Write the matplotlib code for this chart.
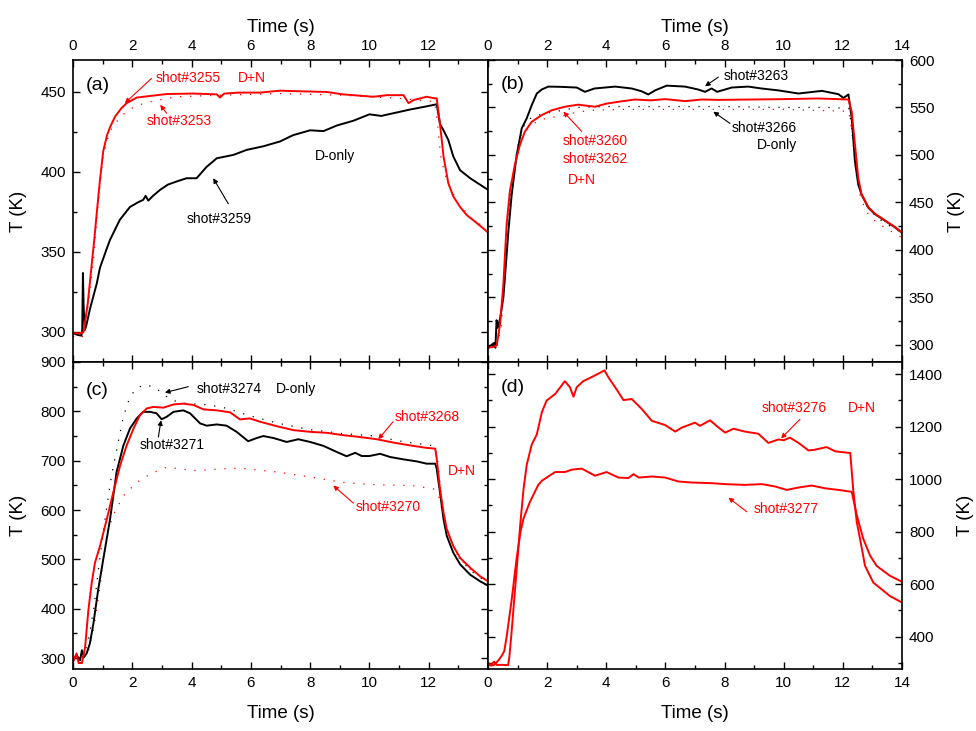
import numpy as np
import matplotlib
matplotlib.use("Agg")
import matplotlib.pyplot as plt
from matplotlib.ticker import MultipleLocator

plt.rcParams['font.family'] = ['Liberation Sans', 'DejaVu Sans']

RED = '#ff0000'
BLK = '#000000'

# ---- panel (a): shots 3255 / 3253 (D+N) and 3259 (D-only)
t_3255 = [0, 0.3, 0.36, 0.5, 0.62, 0.72, 0.8, 0.91, 1.02, 1.15, 1.25, 1.42, 1.64, 1.81, 2.15, 2.6,
          3.16, 4.06, 4.85, 4.96, 5.1, 5.6, 6.31, 6.98, 7.5, 8.56, 9.1, 10.13, 10.6, 11.15, 11.25,
          11.32, 11.5, 11.93, 12.2, 12.27, 12.38, 12.5, 12.66, 12.83, 13.06, 13.28, 13.62, 13.96]
T_3255 = [299, 299, 300, 318, 340, 358, 374, 395, 413, 423, 428, 434.6, 440, 443, 446.5, 447.5,
          448.7, 449, 448.5, 446.5, 449, 449.6, 449.6, 450.8, 450.5, 450, 448.5, 447, 448, 448, 445,
          443, 445, 447, 446, 446, 430, 409.6, 393, 384.6, 378, 373, 368, 362.7]

t_3253 = [0, 0.3, 0.4, 0.55, 0.7, 0.8, 0.91, 1.02, 1.15, 1.3, 1.5, 1.7, 2.0, 2.4, 2.9, 3.5, 5, 7,
          9, 11, 12.2, 12.3, 12.4, 12.6, 13, 13.5, 14]
T_3253 = [297, 296, 303, 322, 347, 370, 392, 410, 420, 427, 432, 436, 440, 443, 445, 447, 448, 449,
          448, 446, 444, 430, 410, 395, 380, 370, 364]

t_3259 = [0, 0.15, 0.28, 0.31, 0.335, 0.36, 0.4, 0.45, 0.57, 0.8, 0.91, 1.14, 1.25, 1.58, 1.92, 2.2,
          2.37, 2.45, 2.54, 2.7, 2.94, 3.2, 3.5, 3.83, 4.17, 4.5, 4.85, 5.41, 5.86, 6.42, 6.98, 7.43,
          8.0, 8.45, 8.9, 9.46, 10.0, 10.4, 10.81, 11.37, 11.93, 12.27, 12.38, 12.5, 12.66, 12.83,
          13.06, 13.4, 13.73, 14.0]
T_3259 = [299, 298, 297.5, 300, 336.7, 315, 301, 304, 314, 330, 340, 352, 357.5, 370, 378, 381,
          382.5, 385, 382, 385, 388.75, 392, 394, 396, 396, 403, 408.5, 410.6, 413.75, 416, 419, 423,
          426, 425.5, 429, 432, 436, 435, 436.7, 439, 441, 442.3, 430, 426, 420, 409.6,
          401, 396, 392, 388.75]

# ---- panel (b): shots 3260 / 3262 (D+N) and 3263 / 3266 (D-only)
t_3263 = [0, 0.12, 0.2, 0.25, 0.29, 0.33, 0.41, 0.46, 0.52, 0.57, 0.69, 0.8, 0.97, 1.14, 1.31, 1.48,
          1.65, 1.82, 2.04, 2.49, 3.0, 3.28, 3.6, 4.3, 4.86, 5.2, 5.42, 5.65, 6.04, 6.66, 7.1, 7.34,
          7.56, 7.75, 8.24, 8.8, 9.25, 9.82, 10.5, 11.29, 11.85, 12.02, 12.19, 12.3, 12.41, 12.52,
          12.63, 12.86, 13.09, 13.43, 13.77, 13.99]
T_3263 = [297, 300, 302, 297, 326, 318, 328, 338, 350, 370, 420, 458, 500, 528, 538.6, 552.5,
          564.7, 569, 572, 571.7, 571, 566.5, 570, 572, 570, 567, 563.7, 568, 573, 572, 569, 566.5,
          570, 566.5, 571, 572, 570, 568, 564.7, 567.5, 564, 560, 563.7, 538.6, 493, 469,
          458.5, 444.5, 437.6, 430.6, 423.6, 418.4]

t_3260 = [0, 0.2, 0.3, 0.41, 0.52, 0.63, 0.74, 0.91, 1.08, 1.25, 1.48, 1.82, 2.15, 2.6, 3.05, 3.3,
          3.62, 4.0, 4.41, 4.97, 5.5, 5.99, 6.66, 7.23, 7.8, 8.92, 10.0, 11.17, 12.19, 12.3, 12.41,
          12.52, 12.63, 12.86, 13.09, 13.43, 13.77, 13.99]
T_3260 = [297, 298, 300, 322.6, 364, 427, 462, 490, 510.7, 524.7, 535, 542, 547, 550.8, 553, 552,
          550.8, 554, 556, 558.4, 557.5, 558.8, 556.7, 558.4, 558, 558.4, 558.8, 559.5, 558.4, 545.5,
          510.7, 476, 459, 445, 438, 431, 424, 418.5]

t_3266 = [0, 0.3, 0.45, 0.6, 0.75, 0.9, 1.05, 1.2, 1.4, 1.7, 2.0, 2.5, 3.0, 4, 6, 8, 10, 11.5, 12.2,
          12.3, 12.4, 12.52, 12.7, 12.9, 13.2, 13.6, 14]
T_3266 = [297, 300, 330, 400, 455, 490, 515, 530, 538, 542, 544, 547, 550, 551, 551, 551, 550, 550,
          549, 530, 495, 470, 452, 442, 433, 425, 418]

t_3262 = [0, 0.3, 0.45, 0.6, 0.75, 0.9, 1.05, 1.2, 1.4, 1.7, 2.0, 2.5, 3.0, 3.5, 4.5, 6, 8, 10, 12.2,
          12.3, 12.45, 12.6, 12.8, 13.1, 13.5, 14]
T_3262 = [296, 298, 320, 390, 450, 485, 510, 522, 530, 536, 539, 541, 545, 547, 548, 548, 548, 548,
          546, 525, 480, 455, 440, 430, 422, 413]

# ---- panel (c): shots 3268 / 3270 (D+N) and 3271 / 3274 (D-only)
t_3268 = [0, 0.12, 0.19, 0.3, 0.37, 0.41, 0.52, 0.63, 0.74, 0.91, 1.14, 1.36, 1.59, 1.81, 2.04, 2.26,
          2.49, 2.71, 3.05, 3.39, 3.72, 4.06, 4.4, 4.85, 5.3, 5.63, 5.96, 6.31, 6.87, 7.43, 8.0, 8.56,
          9.12, 9.68, 10.25, 10.81, 11.37, 11.93, 12.22, 12.27, 12.38, 12.5, 12.61, 12.83, 13.06,
          13.4, 13.73, 14.0]
T_3268 = [292.5, 309.5, 290, 290, 309.5, 323, 398, 452, 493, 527, 581.6, 636, 690.5, 731, 765, 792.5,
          806, 809, 807.5, 814, 815.6, 813, 804, 802, 798, 783.7, 785.7, 779, 770, 762, 758.5, 756.5,
          751.7, 748, 743.5, 736.7, 731, 726, 724.5, 704, 643, 595, 561, 527, 503,
          483, 466, 455.8]

t_3271 = [0, 0.12, 0.24, 0.3, 0.37, 0.46, 0.57, 0.69, 0.85, 1.02, 1.25, 1.47, 1.7, 1.92, 2.15, 2.37,
          2.6, 2.82, 2.99, 3.16, 3.39, 3.72, 3.95, 4.29, 4.51, 4.85, 5.18, 5.52, 5.91, 6.2, 6.42, 6.76,
          7.21, 7.6, 8.0, 8.45, 8.9, 9.23, 9.52, 9.74, 10.0, 10.36, 10.7, 11.15, 11.6, 11.93, 12.22,
          12.27, 12.38, 12.5, 12.61, 12.83, 13.06, 13.4, 13.73, 14.0]
T_3271 = [296, 306, 296, 316, 302, 309.5, 330, 370.7, 438.8, 500, 581.6, 677, 731, 765, 785.7, 799,
          799, 796, 784, 789, 799, 802, 796, 775.5, 771, 773.5, 771, 758.5, 739.5, 746, 750, 746,
          738, 743.5, 738, 730, 717.7, 709, 716, 709.5, 709.5, 714, 707.5, 702.7, 698.6, 694, 694,
          683.7, 636, 581.6, 547.6, 513.6, 490, 469, 455.8, 447]

t_3274 = [0, 0.3, 0.5, 0.7, 0.9, 1.1, 1.3, 1.5, 1.7, 1.9, 2.1, 2.4, 2.7, 2.95, 3.3, 3.8, 4.6, 5.2,
          5.9, 6.9, 8.0, 9.1, 10.2, 11, 12.2, 12.3, 12.4, 12.5, 12.7, 13, 13.4, 14]
T_3274 = [295, 300, 330, 400, 500, 590, 670, 730, 790, 825, 845, 854, 850, 840, 823, 816, 813, 806,
          792, 776, 763, 755, 750, 740, 730, 700, 640, 590, 545, 505, 478, 452]

t_3270 = [0, 0.3, 0.5, 0.7, 0.9, 1.05, 1.2, 1.36, 1.7, 2.15, 2.6, 3.16, 4.06, 5.2, 5.6, 6.9, 8, 9.1,
          10.25, 11.4, 12.16, 12.33, 12.5, 12.7, 13, 13.4, 14]
T_3270 = [295, 300, 310, 360, 440, 510, 560, 590, 629, 656, 673, 687, 680, 684, 685, 677, 667, 656,
          651, 650, 643, 629, 588, 545, 505, 480, 455]

# ---- panel (d): shots 3276 / 3277 (D+N)
t_3276 = [0, 0.1, 0.2, 0.3, 0.45, 0.6, 0.68, 0.72, 0.8, 0.9, 1.0, 1.1, 1.2, 1.31, 1.48, 1.65, 1.82,
          1.98, 2.27, 2.6, 2.77, 2.89, 3.0, 3.22, 3.62, 3.94, 4.07, 4.3, 4.58, 4.86, 5.2, 5.54, 5.99,
          6.33, 6.55, 7.0, 7.17, 7.51, 7.8, 8.02, 8.3, 8.69, 9.14, 9.48, 9.82, 10.0, 10.21, 10.5,
          10.84, 11.05, 11.45, 11.74, 12.19, 12.25, 12.35, 12.47, 12.58, 12.75, 13.03, 13.59, 14.0]
T_3276 = [300, 292, 305, 292, 293, 292, 292, 320, 420, 560, 700, 840, 960, 1055, 1132, 1170, 1254,
          1299, 1324, 1373, 1350, 1314, 1350, 1373, 1395, 1414, 1388, 1350, 1301, 1305, 1267, 1222,
          1206, 1181, 1196, 1215, 1203, 1224, 1196, 1177, 1192, 1181, 1173, 1138, 1151, 1148, 1158,
          1138, 1109, 1112, 1122, 1106, 1100, 1100, 960, 837, 773, 670, 606, 555, 530]

t_3277 = [0, 0.1, 0.2, 0.35, 0.45, 0.55, 0.63, 0.8, 0.97, 1.1, 1.2, 1.42, 1.7, 1.82, 2.04, 2.27, 2.6,
          2.83, 3.17, 3.62, 4.01, 4.41, 4.75, 4.92, 5.1, 5.54, 5.99, 6.44, 6.89, 7.56, 8.02, 8.69,
          9.26, 9.71, 10.1, 10.5, 10.95, 11.4, 11.85, 12.24, 12.3, 12.47, 12.69, 12.92, 13.14,
          13.59, 14.0]
T_3277 = [295, 290, 292, 310, 325, 345, 400, 540, 700, 800, 850, 914, 978, 993.6, 1010, 1027, 1027,
          1036, 1040, 1013, 1027, 1006, 1004, 1019, 1006, 1010, 1006, 991, 987, 984.6, 981, 978,
          981, 972, 959, 968, 975.6, 965, 959, 952.6, 952, 863, 773, 709, 670, 632, 609]

x_ticks = np.arange(0, 15, 2)

fig = plt.figure(figsize=(9.76, 7.31), dpi=100)
W, H = 976, 731


def px_axes(x0, y0, x1, y1):
    return fig.add_axes([x0 / W, 1 - y1 / H, (x1 - x0) / W, (y1 - y0) / H])


ax_a = px_axes(73, 60, 488, 362)
ax_b = px_axes(488, 60, 902, 362)
ax_c = px_axes(73, 362, 488, 669)
ax_d = px_axes(488, 362, 902, 669)

solid = dict(lw=1.4)
dotted = dict(lw=0.9, linestyle=(0, (1, 7)))

ax_a.plot(t_3253, T_3253, color=RED, **dotted)
ax_a.plot(t_3259, T_3259, color=BLK, **solid)
ax_a.plot(t_3255, T_3255, color=RED, **solid)

ax_b.plot(t_3266, T_3266, color=BLK, **dotted)
ax_b.plot(t_3262, T_3262, color=RED, **dotted)
ax_b.plot(t_3263, T_3263, color=BLK, **solid)
ax_b.plot(t_3260, T_3260, color=RED, **solid)

ax_c.plot(t_3274, T_3274, color=BLK, **dotted)
ax_c.plot(t_3270, T_3270, color=RED, **dotted)
ax_c.plot(t_3271, T_3271, color=BLK, **solid)
ax_c.plot(t_3268, T_3268, color=RED, **solid)

ax_d.plot(t_3277, T_3277, color=RED, **solid)
ax_d.plot(t_3276, T_3276, color=RED, **solid)

ax_a.set_ylim(281, 470)
ax_b.set_ylim(282, 600)
ax_c.set_ylim(278, 900)
ax_d.set_ylim(277, 1446)

ax_a.yaxis.set_major_locator(MultipleLocator(50))
ax_a.yaxis.set_minor_locator(MultipleLocator(25))
ax_b.yaxis.set_major_locator(MultipleLocator(50))
ax_b.yaxis.set_minor_locator(MultipleLocator(25))
ax_c.yaxis.set_major_locator(MultipleLocator(100))
ax_c.yaxis.set_minor_locator(MultipleLocator(50))
ax_d.yaxis.set_major_locator(MultipleLocator(200))
ax_d.yaxis.set_minor_locator(MultipleLocator(100))

for ax in (ax_a, ax_b, ax_c, ax_d):
    ax.set_xlim(0, 14)
    ax.set_xticks(x_ticks)
    ax.xaxis.set_minor_locator(MultipleLocator(1))
    ax.tick_params(which='both', direction='in', top=True, bottom=True, left=True, right=True,
                   labelsize=11, width=1.0, pad=5)
    ax.tick_params(which='major', length=5)
    ax.tick_params(which='minor', length=3)
    for s in ax.spines.values():
        s.set_linewidth(1.2)

# panels on the left drop the "14" label so it does not collide with the neighbour's "0"
left_labels = [str(v) for v in x_ticks[:-1]] + ['']
full_labels = [str(v) for v in x_ticks]

ax_a.tick_params(labeltop=True, labelbottom=False, labelleft=True, labelright=False)
ax_a.set_xticklabels(left_labels)
ax_b.tick_params(labeltop=True, labelbottom=False, labelleft=False, labelright=True)
ax_b.set_xticklabels(full_labels)
ax_c.tick_params(labeltop=False, labelbottom=True, labelleft=True, labelright=False)
ax_c.set_xticklabels(left_labels)
ax_d.tick_params(labeltop=False, labelbottom=True, labelleft=False, labelright=True)
ax_d.set_xticklabels(full_labels)

for ax in (ax_a, ax_b):
    ax.xaxis.set_label_position('top')
    ax.set_xlabel('Time (s)', fontsize=13.5, labelpad=5)
for ax in (ax_c, ax_d):
    ax.set_xlabel('Time (s)', fontsize=13.5, labelpad=11)
for ax in (ax_b, ax_d):
    ax.yaxis.set_label_position('right')
for ax in (ax_a, ax_b, ax_c, ax_d):
    ax.set_ylabel('T (K)', fontsize=13.5, labelpad=10)

# panel letters
for ax, letter, yf in ((ax_a, '(a)', 0.917), (ax_b, '(b)', 0.92), (ax_c, '(c)', 0.908), (ax_d, '(d)', 0.918)):
    ax.text(0.03, yf, letter, transform=ax.transAxes, fontsize=14, va='center', ha='left')

ann = dict(fontsize=10, va='center', ha='left')


def arrow(ax, tail, head, color):
    ax.annotate('', xy=head, xytext=tail,
                arrowprops=dict(arrowstyle='-|>', color=color, lw=0.8, mutation_scale=7,
                                shrinkA=0, shrinkB=0))


# panel (a) labels
ax_a.text(2.8, 458.7, 'shot#3255', color=RED, **ann)
ax_a.text(5.55, 458.7, 'D+N', color=RED, **ann)
arrow(ax_a, (2.65, 458.5), (1.75, 443), RED)
ax_a.text(2.5, 431.6, 'shot#3253', color=RED, **ann)
arrow(ax_a, (3.16, 436.7), (2.94, 441.9), RED)
ax_a.text(8.16, 409.7, 'D-only', color=BLK, **ann)
ax_a.text(3.85, 370.6, 'shot#3259', color=BLK, **ann)
arrow(ax_a, (5.24, 380), (4.73, 396), BLK)

# panel (b) labels
ax_b.text(7.98, 583, 'shot#3263', color=BLK, **ann)
arrow(ax_b, (7.79, 582), (7.34, 572.4), BLK)
ax_b.text(8.25, 528.8, 'shot#3266', color=BLK, **ann)
arrow(ax_b, (8.18, 533.3), (7.62, 545.6), BLK)
ax_b.text(9.1, 510, 'D-only', color=BLK, **ann)
ax_b.text(2.54, 515, 'shot#3260', color=RED, **ann)
ax_b.text(2.54, 496, 'shot#3262', color=RED, **ann)
ax_b.text(2.7, 473.5, 'D+N', color=RED, **ann)
arrow(ax_b, (3.17, 524.7), (2.55, 545.6), RED)

# panel (c) labels
ax_c.text(4.18, 845, 'shot#3274', color=BLK, **ann)
ax_c.text(6.85, 845, 'D-only', color=BLK, **ann)
arrow(ax_c, (3.89, 850), (3.1, 838), BLK)
ax_c.text(2.26, 732.7, 'shot#3271', color=BLK, **ann)
arrow(ax_c, (2.88, 748), (2.97, 782), BLK)
ax_c.text(10.86, 787.8, 'shot#3268', color=RED, **ann)
arrow(ax_c, (10.8, 779), (10.3, 743.5), RED)
ax_c.text(12.65, 678.6, 'D+N', color=RED, **ann)
ax_c.text(9.55, 607, 'shot#3270', color=RED, **ann)
arrow(ax_c, (9.46, 614), (8.78, 649.6), RED)

# panel (d) labels
ax_d.text(9.27, 1269, 'shot#3276', color=RED, **ann)
ax_d.text(12.17, 1269, 'D+N', color=RED, **ann)
arrow(ax_d, (10.55, 1228), (9.91, 1155), RED)
ax_d.text(9.0, 884.6, 'shot#3277', color=RED, **ann)
arrow(ax_d, (8.75, 875.8), (8.13, 929.6), RED)

fig.savefig('out.png', dpi=100)
